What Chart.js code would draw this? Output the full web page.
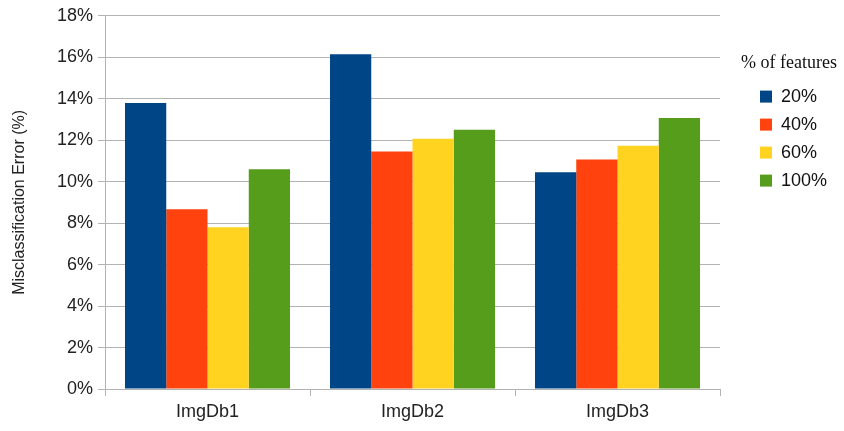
<!DOCTYPE html>
<html>
<head>
<meta charset="utf-8">
<script src="https://cdn.jsdelivr.net/npm/chart.js@4/dist/chart.umd.min.js"></script>
<style>
html,body{margin:0;padding:0;background:#fff;}
#wrap{width:844px;height:431px;position:relative;}
</style>
</head>
<body>
<div id="wrap"><canvas id="c" width="844" height="431"></canvas></div>
<script>
const categories = ["ImgDb1", "ImgDb2", "ImgDb3"];
const seriesNames = ["20%", "40%", "60%", "100%"];
const s20 = [13.8, 16.15, 10.45];
const s40 = [8.67, 11.45, 11.07];
const s60 = [7.8, 12.07, 11.73];
const s100 = [10.6, 12.5, 13.07];
const yTicks = [0, 2, 4, 6, 8, 10, 12, 14, 16, 18];
const colors = ["#004586", "#ff420e", "#ffd320", "#579d1c"];
const values = [s20, s40, s60, s100];

const grid = "#b3b3b3";

const legendFix = {
  id: "legendFix",
  beforeLayout(chart) {
    const lg = chart.legend;
    if (lg && !lg._patched) {
      const f = lg.fit.bind(lg);
      lg.fit = function () { f(); this.width = 124; };
      const dt = lg.drawTitle.bind(lg);
      lg.drawTitle = function () {
        const l = this.left;
        this.left = 741;
        dt();
        this.left = l;
      };
      lg.draw = function () {
        if (!this.options.display) return;
        const l = this.left;
        this.left = 750;
        this._draw();
        this.left = l;
      };
      lg._patched = true;
    }
  }
};

const ctx = document.getElementById("c");
new Chart(ctx, {
  type: "bar",
  plugins: [legendFix],
  data: {
    labels: categories,
    datasets: seriesNames.map((n, i) => ({
      label: n,
      data: values[i],
      backgroundColor: colors[i],
      borderWidth: 0,
      categoryPercentage: 0.805,
      barPercentage: 1.0
    }))
  },
  options: {
    responsive: false,
    animation: false,
    layout: { padding: { top: 14, right: 0, left: 0, bottom: 0 } },
    plugins: {
      tooltip: { enabled: false },
      legend: {
        position: "right",
        align: "start",
        title: {
          display: true,
          text: "% of features",
          position: "start",
          color: "#111",
          font: { family: "Liberation Serif", size: 18 },
          padding: { top: 40, bottom: 2 }
        },
        labels: {
          boxWidth: 12,
          boxHeight: 12,
          padding: 10,
          color: "#111",
          font: { family: "Liberation Sans", size: 18 }
        }
      }
    },
    scales: {
      x: {
        offset: true,
        grid: {
          offset: true,
          display: true,
          drawOnChartArea: true,
          color: (c) => (c.index === 3 ? grid : "rgba(0,0,0,0)"),
          tickColor: grid,
          tickLength: 7,
          lineWidth: 1
        },
        border: { color: grid, width: 1 },
        ticks: {
          color: "#222",
          font: { family: "Liberation Sans", size: 18 },
          padding: 5
        },
        afterFit: (s) => { s.height = 42; }
      },
      y: {
        min: 0,
        max: 18,
        afterBuildTicks: (s) => { s.ticks = yTicks.map(v => ({ value: v })); },
        grid: { color: grid, tickColor: grid, tickLength: 7, lineWidth: 1 },
        border: { color: grid, width: 1 },
        ticks: {
          color: "#222",
          font: { family: "Liberation Sans", size: 18 },
          padding: 5,
          callback: (v) => v + "%"
        },
        title: {
          display: true,
          text: "Misclassification Error (%)",
          color: "#222",
          font: { family: "Liberation Sans", size: 16 },
          padding: { top: 10, bottom: 0 }
        },
        afterFit: (s) => { s.width = 105; }
      }
    }
  }
});
</script>
</body>
</html>
